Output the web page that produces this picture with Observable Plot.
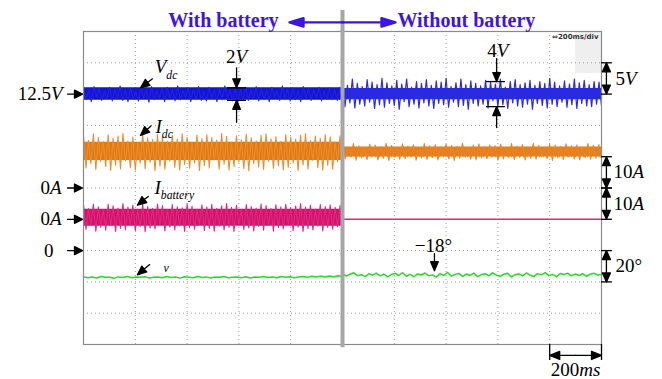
<!DOCTYPE html>
<html>
<head>
<meta charset="utf-8">
<script src="https://cdn.jsdelivr.net/npm/d3@7"></script>
<script src="https://cdn.jsdelivr.net/npm/@observablehq/plot@0.6"></script>
<style>
  html, body { margin: 0; padding: 0; background: #fff; }
</style>
</head>
<body>
<div id="chart"></div>
<script>
// Scope capture: 10 divisions of 200 ms; the battery is disconnected at t = 1000 ms.
const timeDomain = [0, 2000];
const switchTime = 1000;
const timePerDiv = 200;

// DC-link voltage Vdc (V), peak/trough samples
const vdcWithBattery = [
  13.5,11.6,13.2,11.3,13.7,12.0,13.4,11.5,13.0,11.8,13.6,11.4,13.3,11.9,13.8,11.5,
  13.1,11.3,13.5,11.7,12.9,11.4,13.6,11.8,13.3,11.2,13.7,11.6,13.0,11.9,13.4,11.3,
  13.6,11.7,13.2,11.4,13.8,11.6,13.1,12.0,13.5,11.3,13.3,11.7,13.7,11.5,12.9,11.4,
  13.6,11.8,13.2,11.3,13.4,11.6,13.8,11.9,13.0,11.4,13.5,11.2,13.3,11.7,13.6,11.5,
  13.1,11.8,13.7,11.4,13.4,11.6,13.2,11.3,13.6,12.0,13.0,11.5,13.8,11.7,13.3,11.4,
  13.5,11.6,13.1,11.3,13.7,11.8,13.4,11.5,13.2,11.9,13.6,11.4,13.0,11.7,13.5,11.6,
  13.3,11.5,13.6,11.7
];
const vdcWithoutBattery = [
  14.6,10.5,13.9,11.1,14.9,10.3,14.2,10.9,13.7,10.6,14.8,11.2,14.4,10.2,14.0,10.8,
  15.0,10.4,14.3,11.0,13.8,10.7,14.7,10.1,14.1,11.3,14.9,10.5,13.6,10.9,14.5,10.3,
  14.2,11.1,14.8,10.6,13.9,10.2,14.6,11.0,14.4,10.8,15.0,10.4,13.7,11.2,14.3,10.5,
  14.9,10.7,14.0,10.1,14.6,11.0,14.2,10.6,13.8,10.9,14.7,10.3,14.4,11.4,14.1,10.5,
  14.9,10.8,13.6,10.2,14.5,11.1,14.8,10.6,14.0,10.4,14.3,10.9,14.7,10.1,13.9,11.0,
  14.5,10.7,14.2,10.3,15.0,10.9,14.4,10.5,13.8,11.2,14.6,10.4,14.1,10.8,14.9,10.2,
  14.3,11.0,14.7,10.6,14.0,10.5,14.5,10.9,14.4,10.6
];
const vdcCoreWith = [11.5, 13.5];
const vdcCoreWithout = [11.6, 13.4];

// DC current Idc (A)
const idcWithBattery = [
  16.9,6.4,15.2,7.8,17.3,5.9,16.1,8.4,14.8,6.8,17.0,5.6,15.9,7.3,16.6,6.1,
  17.4,8.7,15.0,6.5,16.3,5.7,14.6,7.9,17.2,6.2,16.0,8.2,15.5,5.5,17.1,7.0,
  16.4,6.0,14.9,8.6,16.8,6.6,15.6,5.8,17.3,7.5,16.2,6.3,14.5,8.1,16.9,5.6,
  15.8,7.2,17.0,6.4,16.1,8.9,15.3,6.0,17.4,7.6,16.5,5.7,14.7,6.9,16.7,8.3,
  15.4,6.2,17.2,5.5,16.0,7.8,15.1,6.7,16.8,5.9,17.3,8.5,15.7,6.3,16.4,7.1,
  14.9,5.8,17.1,6.6,16.2,8.0,15.6,5.6,16.9,7.4,17.4,6.1,15.2,8.8,16.6,6.5,
  15.9,5.7,17.0,7.3,16.3,6.0,14.8,8.4,16.7,6.2
];
const idcWithoutBattery = [
  13.9,9.3,13.1,9.9,14.2,8.9,13.5,9.6,12.9,9.1,14.0,10.1,13.7,9.0,13.2,9.5,
  14.3,8.8,13.6,9.8,13.0,9.2,14.1,9.4,13.4,10.0,13.8,8.9,12.8,9.6,14.2,9.1,
  13.5,9.7,13.9,9.0,13.1,10.2,14.0,9.3,13.6,8.8,13.3,9.5,14.3,9.9,12.9,9.2,
  13.7,9.0,14.1,9.6,13.2,9.4,13.8,10.0,13.5,8.9,14.0,9.3,13.0,9.7,14.2,9.1,
  13.4,9.8,13.9,9.0,13.1,9.5,14.3,9.2,13.6,10.1,12.9,9.4,14.0,8.8,13.7,9.6,
  13.3,9.1,14.1,9.9,13.5,9.3,13.8,9.0,13.0,9.7,14.2,9.2,13.6,9.5,13.9,9.3
];
const idcCoreWith = [8.8, 14.6];
const idcCoreWithout = [9.9, 13.1];

// Battery current Ibattery (A)
const ibatWithBattery = [
  4.7,-3.2,3.4,-1.9,4.9,-3.8,4.0,-2.6,3.1,-3.5,4.8,-2.0,4.3,-3.9,3.6,-2.9,
  5.0,-3.3,3.9,-1.7,4.5,-3.6,3.0,-2.4,4.8,-4.0,4.1,-2.8,3.5,-3.1,4.9,-1.8,
  4.4,-3.7,3.2,-2.5,4.7,-3.4,4.0,-2.1,3.7,-3.9,4.9,-2.7,4.2,-3.2,3.3,-1.6,
  4.6,-3.6,3.9,-2.9,4.8,-3.8,3.5,-2.2,4.3,-3.4,5.0,-2.6,3.8,-3.9,4.5,-1.9,
  3.1,-3.3,4.7,-2.8,4.1,-3.7,3.6,-2.3,4.9,-3.5,4.4,-2.0,3.4,-3.8,4.6,-2.7,
  4.0,-3.1,4.8,-1.8,3.7,-3.6,4.2,-2.5,5.0,-3.9,3.9,-2.9,4.5,-3.4,3.3,-2.2,
  4.7,-3.7,4.1,-2.6,4.6,-3.2,3.8,-2.4,4.4,-3.3
];
const ibatWithoutBattery = [0, 0];
const ibatCoreWith = [-2.2, 3.2];

// Phase angle v (degrees)
const phaseWithBattery = [
  -16.7,-17.3,-16.9,-17.5,-16.6,-17.1,-17.0,-17.6,-16.8,-17.2,-16.5,-17.4,-16.9,-17.0,-16.7,-17.5,
  -17.1,-16.8,-17.4,-16.6,-17.2,-16.9,-17.6,-16.7,-17.0,-17.3,-16.5,-17.2,-16.8,-17.5,-16.9,-17.1,
  -16.6,-17.4,-17.0,-16.8,-17.3,-16.7,-17.5,-16.9,-17.1,-16.6,-17.2,-16.8,-17.4,-16.5,-17.0,-16.7,
  -17.3,-16.9,-16.6,-17.1,-16.4,-16.9,-16.3,-16.8,-16.2,-16.7,-16.1,-16.6
];
const phaseWithoutBattery = [
  -14.6,-16.3,-15.1,-14.2,-16.0,-15.4,-16.6,-14.8,-15.7,-14.4,-16.2,-15.0,-16.8,-15.3,-14.5,-15.9,
  -14.1,-16.4,-15.2,-16.7,-14.9,-15.6,-14.3,-16.1,-15.5,-16.9,-14.7,-15.8,-14.0,-16.3,-15.2,-14.6,
  -16.5,-15.0,-15.9,-14.4,-16.6,-15.3,-14.8,-16.1,-14.2,-15.7,-16.4,-15.1,-14.5,-16.8,-15.4,-14.9,
  -16.2,-14.3,-15.8,-16.5,-14.7,-15.5,-14.1,-16.0,-15.2,-16.7,-14.6,-15.3,-14.4,-16.1,-15.0,-15.9,
  -14.8,-16.4,-15.1,-14.5,-15.7,-15.2
];

// Annotated quantities
const vdcRippleWith = 2;     // V peak-to-peak
const vdcRippleWithout = 4;  // V peak-to-peak
const phaseMarker = -18;     // degrees

// Scope channel settings: reference level on screen (divisions from bottom) and units per division
const VDC = {ref: 12.5, level: 8, perDiv: 5};
const IDC = {ref: 0, level: 5, perDiv: 10};
const IBAT = {ref: 0, level: 4, perDiv: 10};
const PHASE = {ref: 0, level: 3, perDiv: 20};
const toDiv = (ch, v) => ch.level + (v - ch.ref) / ch.perDiv;

function trace(values, t0, t1, ch) {
  const n = values.length - 1;
  return values.map((v, i) => ({t: t0 + (t1 - t0) * i / n, y: toDiv(ch, v)}));
}
function band([lo, hi], t0, t1, ch) {
  return [t0, t1].map(t => ({t, lo: toDiv(ch, lo), hi: toDiv(ch, hi)}));
}

const [T0, T1] = timeDomain;
const serif = "Liberation Serif";
const titleColor = "#3c14e6";

// Arrow with a filled head; (x, y) is the tip
const headShape = (h, w) => ({
  draw(context, l) {
    context.moveTo(0, 0);
    context.lineTo(0, -l + h);
    context.moveTo(0, -l);
    context.lineTo(w, -l + h);
    context.lineTo(-w, -l + h);
    context.closePath();
  }
});
function arrow(x, y, length, rotate, {color = "black", h = 9, w = 3.8, width = 1.3, dx = 0, dy = 0} = {}) {
  return Plot.vector([{x, y}], {
    x: "x", y: "y", length, rotate, anchor: "end", shape: headShape(h, w),
    stroke: color, fill: color, strokeWidth: width, dx, dy
  });
}
function label(x, y, text, opts = {}) {
  return Plot.text([{x, y, text}], {
    x: "x", y: "y", text: "text", fontFamily: serif, fontSize: 19, fill: "black",
    lineAnchor: "middle", ...opts
  });
}

const gridTimes = d3.range(T0 + timePerDiv, T1, timePerDiv);
const gridDivs = d3.range(1, 10);

// Vertical scale brackets on the right-hand side
const brackets = [
  {lo: VDC.level, hi: VDC.level + 1, text: "5*V*", dx: 14},
  {lo: IDC.level, hi: IDC.level + 1, text: "10*A*", dx: 12},
  {lo: IBAT.level, hi: IBAT.level + 1, text: "10*A*", dx: 12},
  {lo: PHASE.level - 1, hi: PHASE.level, text: "20°", dx: 14}
];
const bracketX = T1 + 19;   // a few pixels right of the frame
const bracketEnd = T1 + 42;

const marks = [
  // scope label area
  Plot.rect([{x1: 1900, x2: T1, y1: 8.66, y2: 10}], {x1: "x1", x2: "x2", y1: "y1", y2: "y2", fill: "#efefef"}),
  Plot.ruleX(gridTimes, {stroke: "#9a9a9a", strokeDasharray: "1,3", strokeWidth: 1}),
  Plot.ruleY(gridDivs, {stroke: "#9a9a9a", strokeDasharray: "1,3", strokeWidth: 1}),
  Plot.text(["\u21D4200ms/div"], {frameAnchor: "top-right", dx: -3, dy: 5, fontFamily: "DejaVu Sans", fontSize: 7, fontWeight: "bold", fill: "#333", lineAnchor: "middle"}),

  // phase angle v
  Plot.line(trace(phaseWithBattery, T0, switchTime, PHASE), {x: "t", y: "y", stroke: "#22dd22", strokeWidth: 1.5}),
  Plot.line(trace(phaseWithoutBattery, switchTime, T1, PHASE), {x: "t", y: "y", stroke: "#22dd22", strokeWidth: 1.5}),

  // battery current
  Plot.areaY(band(ibatCoreWith, T0, switchTime, IBAT), {x: "t", y1: "lo", y2: "hi", fill: "#d3126c"}),
  Plot.line(trace(ibatWithBattery, T0, switchTime, IBAT), {x: "t", y: "y", stroke: "#dc2a7c", strokeWidth: 1.1}),
  Plot.line(trace(ibatWithoutBattery, switchTime, T1, IBAT), {x: "t", y: "y", stroke: "#e8286e", strokeWidth: 1.4}),

  // DC current
  Plot.areaY(band(idcCoreWith, T0, switchTime, IDC), {x: "t", y1: "lo", y2: "hi", fill: "#e27a12"}),
  Plot.line(trace(idcWithBattery, T0, switchTime, IDC), {x: "t", y: "y", stroke: "#ea8c30", strokeWidth: 1.1}),
  Plot.areaY(band(idcCoreWithout, switchTime, T1, IDC), {x: "t", y1: "lo", y2: "hi", fill: "#e4801c"}),
  Plot.line(trace(idcWithoutBattery, switchTime, T1, IDC), {x: "t", y: "y", stroke: "#e88428", strokeWidth: 1.1}),

  // DC-link voltage
  Plot.areaY(band(vdcCoreWith, T0, switchTime, VDC), {x: "t", y1: "lo", y2: "hi", fill: "#1414d2"}),
  Plot.line(trace(vdcWithBattery, T0, switchTime, VDC), {x: "t", y: "y", stroke: "#2222e0", strokeWidth: 1.1}),
  Plot.areaY(band(vdcCoreWithout, switchTime, T1, VDC), {x: "t", y1: "lo", y2: "hi", fill: "#2a2ade"}),
  Plot.line(trace(vdcWithoutBattery, switchTime, T1, VDC), {x: "t", y: "y", stroke: "#2a2ae2", strokeWidth: 1.2}),

  Plot.frame({stroke: "#8a8a8a", strokeWidth: 1.2}),

  // switching instant
  Plot.ruleX([switchTime], {y1: -0.1, y2: 10.67, stroke: "#a6a6a6", strokeWidth: 4}),

  // heading
  label(753, 10.13, "With battery", {textAnchor: "end", lineAnchor: "bottom", fontWeight: "bold", fontSize: 20, fill: titleColor}),
  label(1212, 10.13, "Without battery", {textAnchor: "start", lineAnchor: "bottom", fontWeight: "bold", fontSize: 20, fill: titleColor}),
  arrow(switchTime, 10.29, 53, 270, {color: titleColor, h: 14, w: 4.2, width: 2.4, dx: -53}),
  arrow(switchTime, 10.29, 53, 90, {color: titleColor, h: 14, w: 4.2, width: 2.4, dx: 53}),

  // reference levels on the left
  label(T0, VDC.level, "12.5*V*", {textAnchor: "end", dx: -21}),
  label(T0, IDC.level, "0*A*", {textAnchor: "end", dx: -22}),
  label(T0, IBAT.level, "0*A*", {textAnchor: "end", dx: -22}),
  label(T0, PHASE.level, "0", {textAnchor: "end", dx: -30}),
  ...[VDC, IDC, IBAT, PHASE].map(ch => arrow(T0, ch.level, 15, 90, {dx: -1, h: 8, w: 4})),

  // trace names
  label(275, 8.66, "*V*_{dc}", {textAnchor: "start", lineAnchor: "bottom"}),
  arrow(220, toDiv(VDC, 13.5), 15, 233),
  label(278, 6.77, "*I*_{dc}", {textAnchor: "start", lineAnchor: "bottom"}),
  arrow(220, toDiv(IDC, 16.8), 14, 228),
  label(274, 4.82, "*I*_{battery}", {textAnchor: "start", lineAnchor: "bottom"}),
  arrow(208, toDiv(IBAT, 4.5), 14, 231),
  label(309, 2.33, "*v*", {textAnchor: "start", lineAnchor: "bottom", fontSize: 12}),
  arrow(208, toDiv(PHASE, -15.5), 16, 230),

  // 2 V ripple with battery
  Plot.ruleY([toDiv(VDC, VDC.ref + vdcRippleWith / 2), toDiv(VDC, VDC.ref - vdcRippleWith / 2)], {x1: 556, x2: 629, stroke: "black", strokeWidth: 1.3}),
  arrow(591, toDiv(VDC, VDC.ref + vdcRippleWith / 2), 20, 180),
  arrow(591, toDiv(VDC, VDC.ref - vdcRippleWith / 2), 22, 0),
  label(591, 8.98, `${vdcRippleWith}*V*`, {textAnchor: "middle", lineAnchor: "bottom"}),

  // 4 V ripple without battery
  Plot.ruleY([toDiv(VDC, VDC.ref + vdcRippleWithout / 2), toDiv(VDC, VDC.ref - vdcRippleWithout / 2)], {x1: 1556, x2: 1629, stroke: "black", strokeWidth: 1.3}),
  arrow(1595, toDiv(VDC, VDC.ref + vdcRippleWithout / 2), 23, 180),
  arrow(1595, toDiv(VDC, VDC.ref - vdcRippleWithout / 2), 21, 0),
  label(1600, 9.2, `${vdcRippleWithout}*V*`, {textAnchor: "middle", lineAnchor: "bottom"}),

  // phase marker
  label(1351, 2.94, `\u2212${Math.abs(phaseMarker)}°`, {textAnchor: "middle", lineAnchor: "bottom"}),
  arrow(1355, toDiv(PHASE, phaseMarker), 17, 180, {dy: -8}),

  // scale brackets
  Plot.ruleY(brackets.flatMap(b => [b.lo, b.hi]), {x1: T1, x2: bracketEnd, stroke: "black", strokeWidth: 1.3}),
  ...brackets.flatMap(b => [
    arrow(bracketX, b.hi, 15.6, 0, {h: 9, w: 4}),
    arrow(bracketX, b.lo, 15.6, 180, {h: 9, w: 4})
  ]),
  ...brackets.map(b => label(T1, (b.lo + b.hi) / 2, b.text, {textAnchor: "start", dx: b.dx})),

  // time base bracket
  Plot.ruleX([T1 - timePerDiv, T1], {y1: 0, y2: -0.51, stroke: "black", strokeWidth: 1.3}),
  arrow(T1 - timePerDiv, -0.35, 26, 270, {h: 10, w: 4}),
  arrow(T1, -0.35, 26, 90, {h: 10, w: 4}),
  label(T1 - timePerDiv / 2, -1.02, `${timePerDiv}*ms*`, {textAnchor: "middle", lineAnchor: "bottom"})
];

const chart = Plot.plot({
  width: 662,
  height: 379,
  marginLeft: 83,
  marginRight: 61,
  marginTop: 31,
  marginBottom: 35,
  x: {domain: timeDomain, axis: null},
  y: {domain: [0, 10], axis: null},
  style: {background: "white", fontFamily: serif},
  marks
});

// Italic (*...*) and subscript (_{...}) runs inside labels
chart.querySelectorAll("text").forEach(node => {
  const s = node.textContent;
  if (!/[*_]/.test(s)) return;
  node.textContent = "";
  const re = /\*([^*]+)\*|_\{([^}]+)\}|([^*_]+)/g;
  let m;
  while ((m = re.exec(s))) {
    const t = document.createElementNS("http://www.w3.org/2000/svg", "tspan");
    if (m[1]) {
      t.setAttribute("font-style", "italic");
      t.textContent = m[1];
    } else if (m[2]) {
      t.setAttribute("font-style", "italic");
      t.setAttribute("font-size", "0.62em");
      t.setAttribute("dy", "0.45em");
      t.textContent = m[2];
    } else {
      t.textContent = m[3];
    }
    node.appendChild(t);
  }
});

document.getElementById("chart").appendChild(chart);
</script>
</body>
</html>
